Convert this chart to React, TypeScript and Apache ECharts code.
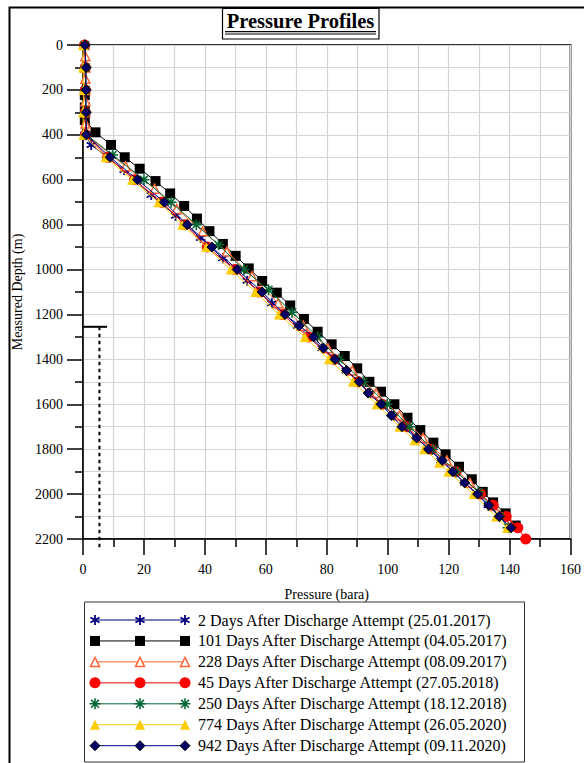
import React, { useEffect, useRef } from "react";
import * as echarts from "echarts";

// ---------- data ----------
const seriesNames = [
  "2 Days After Discharge Attempt (25.01.2017)",
  "101 Days After Discharge Attempt (04.05.2017)",
  "228 Days After Discharge Attempt (08.09.2017)",
  "45 Days After Discharge Attempt (27.05.2018)",
  "250 Days After Discharge Attempt (18.12.2018)",
  "774 Days After Discharge Attempt (26.05.2020)",
  "942 Days After Discharge Attempt (09.11.2020)",
];

// 2 days
const d2Depth = [0, 100, 200, 300, 400, 445, 557, 668, 760, 860, 950, 1050, 1150, 1250, 1350, 1450, 1550, 1650, 1750, 1850, 1950, 2050, 2150];
const d2Pressure = [0.6, 0.7, 0.7, 0.7, 0.6, 2.7, 13.5, 22.4, 30.4, 38.6, 45.9, 53.9, 62.0, 70.4, 78.5, 86.4, 94.2, 102.0, 109.6, 117.5, 125.3, 133.0, 140.3];

// 101 days
const d101Depth = [223, 278, 334, 389, 445, 500, 551, 606, 661, 717, 773, 829, 886, 939, 995, 1051, 1103, 1160, 1220, 1277, 1333, 1385, 1440, 1500, 1544, 1600, 1660, 1715, 1771, 1823, 1878, 1934, 1990, 2037, 2086, 2140];
const d101Pressure = [0.6, 0.6, 0.6, 4.1, 9.2, 13.7, 18.6, 23.8, 28.6, 33.2, 37.4, 41.5, 45.9, 50.1, 54.4, 58.8, 63.6, 68.0, 72.5, 77.0, 81.6, 85.9, 90.0, 94.0, 97.8, 102.2, 106.5, 110.7, 115.0, 119.0, 123.4, 127.6, 131.2, 134.6, 138.7, 142.0];

// 228 days
const d228Depth = [0, 50, 100, 150, 200, 250, 300, 350, 400, 540, 640, 730, 830, 920, 1030, 1150, 1250, 1350, 1450, 1550, 1650, 1750, 1850, 1950, 2050, 2140];
const d228Pressure = [0.6, 0.8, 0.8, 0.8, 0.8, 0.8, 0.8, 0.8, 0.9, 14.0, 23.5, 30.8, 39.3, 47.2, 55.5, 64.1, 72.3, 80.4, 88.4, 96.2, 103.9, 111.6, 119.4, 127.0, 134.3, 140.6];

// 45 days
const d45Depth = [0, 100, 200, 300, 400, 500, 600, 700, 800, 900, 1000, 1100, 1200, 1300, 1400, 1500, 1600, 1700, 1800, 1900, 2000, 2050, 2100, 2150, 2200];
const d45Pressure = [0.5, 0.8, 0.8, 0.8, 0.9, 8.1, 16.9, 25.8, 33.5, 40.8, 49.8, 57.7, 65.5, 73.9, 82.4, 90.3, 98.2, 106.2, 114.3, 122.4, 130.5, 134.6, 138.9, 142.7, 145.3];

// 250 days
const d250Depth = [0, 100, 200, 300, 400, 490, 600, 700, 800, 890, 1000, 1090, 1190, 1300, 1400, 1500, 1600, 1700, 1800, 1900, 1990, 2100, 2150];
const d250Pressure = [0.6, 0.9, 0.9, 0.9, 1.2, 9.7, 20.0, 28.9, 37.2, 44.5, 52.8, 60.9, 68.6, 77.0, 84.0, 92.0, 99.8, 107.2, 114.7, 122.5, 129.8, 136.8, 139.5];

// 774 days
const d774Depth = [0, 100, 200, 300, 400, 500, 600, 700, 800, 900, 1000, 1100, 1200, 1300, 1400, 1500, 1600, 1700, 1760, 1800, 1860, 1900, 2000, 2100, 2150];
const d774Pressure = [0.0, 0.0, 0.2, 0.0, 0.1, 7.4, 16.1, 24.8, 32.6, 40.5, 48.5, 56.6, 64.3, 72.8, 80.7, 88.6, 96.4, 103.9, 108.8, 111.9, 116.9, 119.9, 128.2, 135.6, 139.2];

// 942 days
const d942Depth = [0, 100, 200, 300, 400, 500, 600, 700, 800, 900, 1000, 1100, 1200, 1250, 1300, 1350, 1400, 1450, 1500, 1550, 1600, 1650, 1700, 1750, 1800, 1850, 1900, 1950, 2000, 2050, 2100, 2150];
const d942Pressure = [0.6, 1.0, 1.0, 1.0, 1.1, 8.9, 17.9, 26.7, 34.2, 42.3, 50.6, 58.8, 66.3, 71.0, 75.7, 78.9, 82.7, 86.5, 90.7, 93.6, 97.8, 101.2, 104.7, 109.5, 113.4, 117.9, 121.4, 125.3, 129.5, 133.2, 136.6, 140.5];

const allDepths = [d2Depth, d101Depth, d228Depth, d45Depth, d250Depth, d774Depth, d942Depth];
const allPressures = [d2Pressure, d101Pressure, d228Pressure, d45Pressure, d250Pressure, d774Pressure, d942Pressure];

// casing shoe annotation
const casingShoeDepth = 1255;
const casingMarkEnd = 7.9;
const casingDottedPressure = 5.4;
const casingDottedBottom = 2240;

// axes
const xMin = 0, xMax = 160, xStep = 20;
const yMin = 0, yMax = 2200, yStep = 200;

// ---------- styles ----------
const ASTERISK6 =
  "path://M8.3 0L11.7 0L11.7 20L8.3 20Z M2.19 3.53L19.51 13.53L17.81 16.47L0.49 6.47Z M0.49 13.53L17.81 3.53L19.51 6.47L2.19 16.47Z";
const ASTERISK8 =
  "path://M8.6 0L11.4 0L11.4 20L8.6 20Z M0 8.6L20 8.6L20 11.4L0 11.4Z M3.92 1.94L18.06 16.08L16.08 18.06L1.94 3.92Z M1.94 16.08L16.08 1.94L18.06 3.92L3.92 18.06Z";

const styles = [
  { line: "#000080", symbol: ASTERISK6, size: 10, fill: "#000080", border: "#000080", bw: 0 },
  { line: "#000000", symbol: "rect", size: 10, fill: "#000000", border: "#000000", bw: 0 },
  { line: "#ff6633", symbol: "triangle", size: 9, fill: "#ffffff", border: "#ff6633", bw: 1.5 },
  { line: "#ff0000", symbol: "circle", size: 11, fill: "#ff0000", border: "#ff0000", bw: 0 },
  { line: "#006633", symbol: ASTERISK8, size: 11, fill: "#006633", border: "#006633", bw: 0 },
  { line: "#ffcc00", symbol: "triangle", size: 10, fill: "#ffcc00", border: "#ffcc00", bw: 0 },
  { line: "#000080", symbol: "diamond", size: 10, fill: "#000066", border: "#000000", bw: 1 },
];

const FONT = "'Liberation Serif', 'Times New Roman', serif";

export default function App() {
  const ref = useRef<HTMLDivElement>(null);

  useEffect(() => {
    if (!ref.current) return;
    const chart = echarts.init(ref.current, undefined, { renderer: "svg" });

    const mainSeries = seriesNames.map((name, i) => ({
      name,
      type: "line",
      xAxisIndex: 0,
      yAxisIndex: 0,
      data: allDepths[i].map((d, k) => [allPressures[i][k], d]),
      symbol: styles[i].symbol,
      symbolSize: styles[i].size,
      showAllSymbol: true,
      clip: false,
      lineStyle: { color: styles[i].line, width: 1 },
      itemStyle: { color: styles[i].fill, borderColor: styles[i].border, borderWidth: styles[i].bw, opacity: 1 },
      z: 3 + i,
    }));

    const legendSeries = seriesNames.map((name, i) => ({
      name: name + " ",
      type: "line",
      xAxisIndex: 1,
      yAxisIndex: 1,
      data: [0, 1, 2].map((k) => [k, i]),
      symbol: styles[i].symbol,
      symbolSize: styles[i].size,
      clip: false,
      lineStyle: { color: styles[i].line, width: 1 },
      itemStyle: { color: styles[i].fill, borderColor: styles[i].border, borderWidth: styles[i].bw, opacity: 1 },
      z: 5,
    }));

    const casingSeries = [
      {
        name: "casing-shoe",
        type: "line",
        data: [[xMin, casingShoeDepth], [casingMarkEnd, casingShoeDepth]],
        symbol: "none",
        clip: false,
        lineStyle: { color: "#000", width: 2 },
        z: 10,
        silent: true,
      },
      {
        name: "casing-dotted",
        type: "line",
        data: [[casingDottedPressure, casingShoeDepth], [casingDottedPressure, casingDottedBottom]],
        symbol: "none",
        clip: false,
        lineStyle: { color: "#000", width: 2, type: [3.5, 3.5] },
        z: 10,
        silent: true,
      },
    ];

    const legendTexts = seriesNames.map((name, i) => ({
      type: "text",
      x: 198,
      y: 620 + i * 20.95,
      style: { text: name, font: `16px ${FONT}`, fill: "#000", verticalAlign: "middle", align: "left" },
      z: 20,
    }));

    const plainNumber = (v: number) => String(v);

    const option: any = {
      animation: false,
      backgroundColor: "#ffffff",
      grid: [
        { left: 83, top: 45, width: 496, height: 494, show: true, borderColor: "#333", borderWidth: 2, backgroundColor: "transparent" },
        { left: 95, top: 620, width: 90, height: 125.7, show: false },
      ],
      xAxis: [
        {
          type: "value",
          gridIndex: 0,
          min: xMin,
          max: xMax,
          interval: xStep,
          name: "Pressure (bara)",
          nameLocation: "middle",
          nameGap: 48,
          nameTextStyle: { fontFamily: FONT, fontSize: 14, color: "#000" },
          axisLine: { show: true, onZero: false, lineStyle: { color: "#000", width: 1.5 } },
          axisTick: { show: true, inside: false, length: 16, lineStyle: { color: "#000", width: 1.5 } },
          minorTick: { show: true, splitNumber: 2, length: 8, lineStyle: { color: "#000", width: 1.5 } },
          splitLine: { show: true, lineStyle: { color: "#d4d4d4", width: 1.2 } },
          minorSplitLine: { show: true, lineStyle: { color: "#d4d4d4", width: 1.2 } },
          axisLabel: { fontFamily: FONT, fontSize: 14, color: "#000", margin: 23, formatter: plainNumber },
        },
        { type: "value", gridIndex: 1, min: 0, max: 2, show: false },
      ],
      yAxis: [
        {
          type: "value",
          gridIndex: 0,
          inverse: true,
          min: yMin,
          max: yMax,
          interval: yStep,
          name: "Measured Depth (m)",
          nameLocation: "middle",
          nameGap: 55,
          nameRotate: 90,
          nameTextStyle: { fontFamily: FONT, fontSize: 14, color: "#000" },
          axisLine: { show: true, onZero: false, lineStyle: { color: "#000", width: 1.5 } },
          axisTick: { show: true, inside: false, length: 16, lineStyle: { color: "#000", width: 1.5 } },
          minorTick: { show: true, splitNumber: 2, length: 8, lineStyle: { color: "#000", width: 1.5 } },
          splitLine: { show: true, lineStyle: { color: "#d4d4d4", width: 1.2 } },
          minorSplitLine: { show: true, lineStyle: { color: "#d4d4d4", width: 1.2 } },
          axisLabel: { fontFamily: FONT, fontSize: 14, color: "#000", margin: 20, formatter: plainNumber },
        },
        { type: "value", gridIndex: 1, min: 0, max: 6, inverse: true, show: false },
      ],
      series: [...mainSeries, ...casingSeries, ...legendSeries],
      graphic: [
        { type: "rect", shape: { x: 9.5, y: 7.5, width: 640, height: 820 }, style: { fill: "none", stroke: "#000", lineWidth: 2 }, z: 1, silent: true },
        { type: "rect", shape: { x: 222.5, y: 8.5, width: 156.5, height: 30.5 }, style: { fill: "#fff", stroke: "#000", lineWidth: 1.2 }, z: 1, silent: true },
        {
          type: "text",
          x: 300.5,
          y: 21,
          style: { text: "Pressure Profiles", font: `bold 20.5px ${FONT}`, fill: "#000", align: "center", verticalAlign: "middle" },
          z: 2,
        },
        { type: "line", shape: { x1: 225, y1: 31.7, x2: 376, y2: 31.7 }, style: { stroke: "#000", lineWidth: 1.2 }, z: 2, silent: true },
        { type: "line", shape: { x1: 225, y1: 34, x2: 376, y2: 34 }, style: { stroke: "#000", lineWidth: 1.2 }, z: 2, silent: true },
        { type: "rect", shape: { x: 84.5, y: 602, width: 440, height: 160 }, style: { fill: "none", stroke: "#333", lineWidth: 1 }, z: 1, silent: true },
        ...legendTexts,
      ],
    };

    chart.setOption(option);
    return () => chart.dispose();
  }, []);

  return <div ref={ref} style={{ position: "fixed", left: 0, top: 0, width: 584, height: 763 }} />;
}
